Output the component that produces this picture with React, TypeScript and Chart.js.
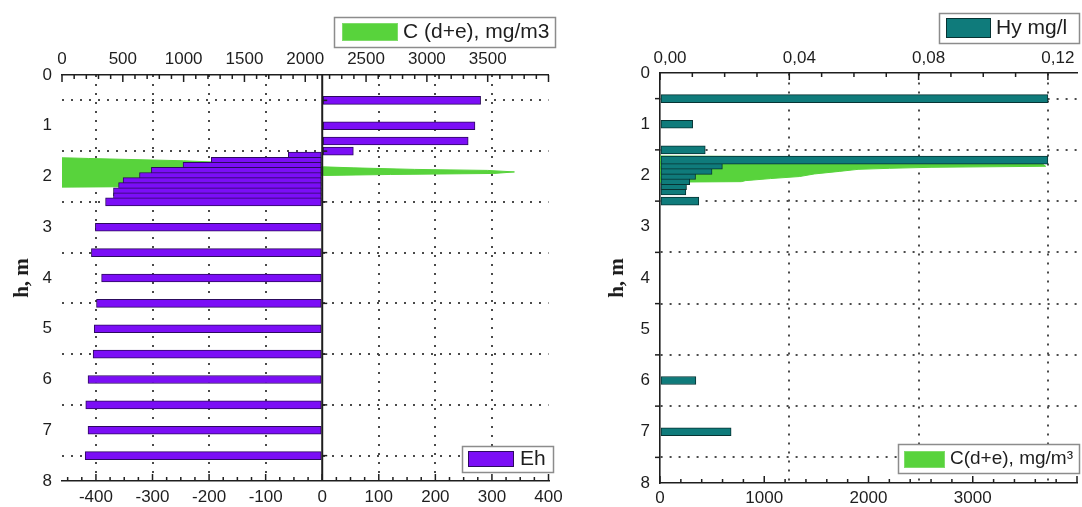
import React, { useEffect, useRef } from 'react';
import { Chart, registerables } from 'chart.js';

Chart.register(...registerables);

const SANS = "'Liberation Sans', Arial, Helvetica, sans-serif";
const SERIF = "'Liberation Serif', 'Times New Roman', serif";
const INK = '#1e1e1e';
const DOT = '#4a4a4a';
const PURPLE = '#7b0ef6';
const PURPLE_EDGE = '#2c0a5e';
const TEAL = '#0f7b7b';
const TEAL_EDGE = '#073333';
const GREEN = '#58d33c';

// ---------- Left panel ----------
// Eh (bottom axis) by depth h, m
const ehDepth = [0.5, 1.0, 1.3, 1.5, 1.6, 1.7, 1.8, 1.9, 2.0, 2.1, 2.2, 2.3, 2.4, 2.5, 3.0, 3.5, 4.0, 4.5, 5.0, 5.5, 6.0, 6.5, 7.0, 7.5];
const ehValues = [280, 270, 258, 55, -60, -196, -246, -302, -323, -352, -360, -369, -369, -383, -401, -408, -390, -399, -403, -405, -414, -418, -414, -419];
// C (d+e), mg/m3 (top axis) profile by depth
const cLeftDepth = [1.63, 1.645, 1.69, 1.76, 1.81, 1.83, 1.86, 1.88, 1.91, 1.94, 1.96, 1.98, 2.05, 2.14, 2.2, 2.21];
const cLeftValues = [0, 220, 1000, 1700, 2150, 2400, 2900, 3500, 3720, 3550, 2700, 2150, 1500, 800, 600, 0];

// ---------- Right panel ----------
// Hy mg/l (top axis), listed from the deepest sample upward
const hyDepth = [7.0, 6.0, 2.5, 2.3, 2.2, 2.1, 2.0, 1.9, 1.8, 1.7, 1.5, 1.0, 0.5];
const hyValues = [0.022, 0.0111, 0.012, 0.008, 0.0082, 0.0092, 0.011, 0.0161, 0.0193, 0.12, 0.014, 0.0101, 0.12];
// C(d+e), mg/m3 (bottom axis) profile by depth
const cRightDepth = [1.62, 1.65, 1.75, 1.82, 1.84, 1.86, 1.88, 1.92, 1.97, 2.02, 2.06, 2.1, 2.12, 2.13];
const cRightValues = [0, 3000, 3650, 3700, 2600, 2200, 1900, 1720, 1480, 1340, 1060, 820, 780, 0];

// axis tick labels
const depthLabels = [0, 1, 2, 3, 4, 5, 6, 7, 8];

const W = 1082;
const H = 507;
const LEFT_X = 0;
const LEFT_W = 570;
const RIGHT_X = 575;
const RIGHT_W = 507;

const isHalf = (v: number) => Math.abs((v % 1) - 0.5) < 1e-6;

const decorPlugin = {
  id: 'decor',
  afterDatasetsDraw(chart: any, _a: any, opts: any) {
    const { ctx, chartArea: a } = chart;
    ctx.save();
    ctx.strokeStyle = INK;
    let x0 = 0;
    if (opts.zeroScale) {
      x0 = chart.scales[opts.zeroScale].getPixelForValue(0);
      ctx.lineWidth = 2;
      ctx.beginPath();
      ctx.moveTo(x0, a.top);
      ctx.lineTo(x0, a.bottom);
      ctx.stroke();
    }
    ctx.lineWidth = 1.5;
    for (const t of opts.ticks || []) {
      const sc = chart.scales[t.scale];
      const n = Math.round((t.to - t.from) / t.step);
      for (let i = 0; i <= n; i++) {
        const v = t.from + i * t.step;
        const p = sc.getPixelForValue(v);
        const r = v / t.major;
        const len = Math.abs(r - Math.round(r)) < 1e-6 ? t.majorLen : t.minorLen;
        ctx.beginPath();
        if (t.edge === 'top') { ctx.moveTo(p, a.top); ctx.lineTo(p, a.top + len); }
        else if (t.edge === 'bottom') { ctx.moveTo(p, a.bottom); ctx.lineTo(p, a.bottom - len); }
        else if (t.edge === 'left') { ctx.moveTo(a.left, p); ctx.lineTo(a.left - len, p); }
        else if (t.edge === 'zero') { ctx.moveTo(x0, p); ctx.lineTo(x0 + len, p); }
        ctx.stroke();
      }
    }
    ctx.restore();
  },
  afterDraw(chart: any, _a: any, opts: any) {
    const { ctx } = chart;
    for (const L of opts.legends || []) {
      ctx.save();
      ctx.fillStyle = '#ffffff';
      ctx.fillRect(L.x, L.y, L.w, L.h);
      ctx.strokeStyle = '#8c8c8c';
      ctx.lineWidth = 1.5;
      ctx.strokeRect(L.x + 0.5, L.y + 0.5, L.w, L.h);
      ctx.fillStyle = L.color;
      ctx.fillRect(L.sx, L.sy, L.sw, L.sh);
      ctx.strokeStyle = L.edge;
      ctx.lineWidth = 1;
      ctx.strokeRect(L.sx + 0.5, L.sy + 0.5, L.sw - 1, L.sh - 1);
      ctx.fillStyle = INK;
      ctx.font = `${L.size}px ${SANS}`;
      ctx.textBaseline = 'middle';
      ctx.textAlign = 'left';
      ctx.fillText(L.text, L.tx, L.ty);
      ctx.restore();
    }
  },
};

const tickFont = { family: SANS, size: 17 };

function depthAxis(width: number, titlePad: number, showBorder: boolean) {
  return {
    type: 'linear',
    position: 'left',
    reverse: true,
    offset: false,
    min: depthLabels[0],
    max: depthLabels[depthLabels.length - 1],
    afterFit: (s: any) => { s.width = width; },
    ticks: {
      stepSize: 0.5,
      autoSkip: false,
      padding: 10,
      color: INK,
      font: tickFont,
      callback: (v: number) => (depthLabels.includes(v) ? String(v) : ''),
    },
    grid: {
      drawTicks: false,
      offset: false,
      lineWidth: 2,
      color: (c: any) => (c.tick && isHalf(c.tick.value) ? DOT : 'transparent'),
    },
    border: { display: showBorder, color: INK, width: 1.6, dash: [2, 7] },
    title: {
      display: true,
      text: 'h, m',
      color: INK,
      font: { family: SERIF, size: 21, weight: 'bold' },
      padding: { top: titlePad, bottom: 0 },
    },
  };
}

function leftConfig(): any {
  const off = LEFT_X;
  return {
    type: 'bar',
    data: {
      datasets: [
        {
          type: 'bar',
          label: 'Eh',
          indexAxis: 'y',
          data: ehDepth.map((h, i) => ({ x: ehValues[i], y: h })),
          xAxisID: 'xEh',
          yAxisID: 'y',
          backgroundColor: PURPLE,
          borderColor: PURPLE_EDGE,
          borderWidth: 1,
          borderSkipped: false,
          barThickness: 8,
          grouped: false,
        },
        {
          type: 'line',
          label: 'C (d+e), mg/m3',
          indexAxis: 'y',
          data: cLeftDepth.map((h, i) => ({ x: cLeftValues[i], y: h })),
          xAxisID: 'xC',
          yAxisID: 'y',
          borderColor: GREEN,
          backgroundColor: GREEN,
          borderWidth: 1,
          pointRadius: 0,
          fill: 'origin',
          tension: 0,
        },
      ],
    },
    options: {
      responsive: false,
      animation: false,
      devicePixelRatio: 1,
      indexAxis: 'y',
      events: [],
      layout: { padding: { left: 0, right: LEFT_W - 548.5, top: 0, bottom: 0 } },
      scales: {
        y: depthAxis(62, 10, false),
        xEh: {
          type: 'linear',
          position: 'bottom',
          min: -460,
          max: 400,
          afterFit: (s: any) => { s.height = H - 481; },
          ticks: { stepSize: 100, includeBounds: false, autoSkip: false, maxRotation: 0, padding: 6, color: INK, font: tickFont, callback: (v: number) => String(v) },
          grid: {
            drawTicks: false,
            lineWidth: 2,
            color: (c: any) => (c.tick && c.tick.value !== 0 && c.tick.value !== 400 ? DOT : 'transparent'),
          },
          border: { display: true, color: INK, width: 1.6, dash: [2, 7] },
        },
        xC: {
          type: 'linear',
          position: 'top',
          min: 0,
          max: 4000,
          afterFit: (s: any) => { s.height = 75; },
          ticks: { stepSize: 500, autoSkip: false, maxRotation: 0, padding: 5, color: INK, font: tickFont, callback: (v: number) => (v >= 4000 ? '' : String(v)) },
          grid: { display: false, drawTicks: false },
          border: { display: true, color: INK, width: 1.6 },
        },
      },
      plugins: {
        legend: { display: false },
        tooltip: { enabled: false },
        decor: {
          zeroScale: 'xEh',
          ticks: [
            { scale: 'xC', edge: 'top', from: 0, to: 4000, step: 100, major: 500, majorLen: 7, minorLen: 4 },
            { scale: 'xEh', edge: 'bottom', from: -450, to: 400, step: 25, major: 100, majorLen: 7, minorLen: 4 },
            { scale: 'y', edge: 'zero', from: 0.5, to: 7.5, step: 1, major: 0.5, majorLen: 5, minorLen: 5 },
          ],
          legends: [
            { x: 334 - off, y: 17, w: 221, h: 30, sx: 342 - off, sy: 23, sw: 56, sh: 18, color: GREEN, edge: '#7fdc6a', text: 'C (d+e), mg/m3', tx: 403 - off, ty: 32.5, size: 21 },
            { x: 462 - off, y: 446, w: 91, h: 26, sx: 468 - off, sy: 451, sw: 46, sh: 16, color: PURPLE, edge: PURPLE_EDGE, text: 'Eh', tx: 520 - off, ty: 459.5, size: 21 },
          ],
        },
      },
    },
    plugins: [decorPlugin],
  };
}

function rightConfig(): any {
  const off = RIGHT_X;
  return {
    type: 'bar',
    data: {
      datasets: [
        {
          type: 'bar',
          label: 'Hy mg/l',
          indexAxis: 'y',
          data: hyDepth.map((h, i) => ({ x: hyValues[i], y: h })),
          xAxisID: 'xHy',
          yAxisID: 'y',
          backgroundColor: TEAL,
          borderColor: TEAL_EDGE,
          borderWidth: 1,
          borderSkipped: false,
          barThickness: 8,
          grouped: false,
        },
        {
          type: 'line',
          label: 'C(d+e), mg/m³',
          indexAxis: 'y',
          data: cRightDepth.map((h, i) => ({ x: cRightValues[i], y: h })),
          xAxisID: 'xC2',
          yAxisID: 'y',
          borderColor: GREEN,
          backgroundColor: GREEN,
          borderWidth: 1,
          pointRadius: 0,
          fill: 'origin',
          tension: 0,
        },
      ],
    },
    options: {
      responsive: false,
      animation: false,
      devicePixelRatio: 1,
      indexAxis: 'y',
      events: [],
      layout: { padding: { left: 0, right: RIGHT_W - (1080 - RIGHT_X), top: 0, bottom: 0 } },
      scales: {
        y: depthAxis(660 - RIGHT_X, 30, true),
        xHy: {
          type: 'linear',
          position: 'top',
          min: 0,
          max: 0.129,
          afterFit: (s: any) => { s.height = 73; },
          ticks: {
            stepSize: 0.04,
            includeBounds: false,
            autoSkip: false,
            maxRotation: 0,
            padding: 4,
            labelOffset: 10,
            color: INK,
            font: tickFont,
            callback: (v: number) => v.toFixed(2).replace('.', ','),
          },
          grid: {
            drawTicks: false,
            lineWidth: 2,
            color: (c: any) => (c.tick && c.tick.value > 0.001 ? DOT : 'transparent'),
          },
          border: { display: true, color: INK, width: 1.6, dash: [2, 7] },
        },
        xC2: {
          type: 'linear',
          position: 'bottom',
          min: 0,
          max: 4000,
          afterFit: (s: any) => { s.height = H - 483; },
          ticks: { stepSize: 1000, autoSkip: false, maxRotation: 0, padding: 5, color: INK, font: tickFont, callback: (v: number) => (v >= 4000 ? '' : String(v)) },
          grid: { display: false, drawTicks: false },
          border: { display: true, color: INK, width: 1.6 },
        },
      },
      plugins: {
        legend: { display: false },
        tooltip: { enabled: false },
        decor: {
          ticks: [
            { scale: 'xHy', edge: 'top', from: 0, to: 0.12, step: 0.01, major: 0.04, majorLen: 7, minorLen: 4 },
            { scale: 'xC2', edge: 'bottom', from: 0, to: 4000, step: 200, major: 1000, majorLen: 7, minorLen: 4 },
            { scale: 'y', edge: 'left', from: 0.5, to: 7.5, step: 1, major: 0.5, majorLen: 5, minorLen: 5 },
          ],
          legends: [
            { x: 939 - off, y: 13, w: 140, h: 30, sx: 946 - off, sy: 18, sw: 45, sh: 20, color: TEAL, edge: TEAL_EDGE, text: 'Hy mg/l', tx: 996 - off, ty: 28.5, size: 21 },
            { x: 898 - off, y: 444, w: 181, h: 29, sx: 904 - off, sy: 451, sw: 41, sh: 17, color: GREEN, edge: '#7fdc6a', text: 'C(d+e), mg/m³', tx: 950 - off, ty: 459, size: 19 },
          ],
        },
      },
    },
    plugins: [decorPlugin],
  };
}

function Panel({ x, width, make }: { x: number; width: number; make: () => any }) {
  const ref = useRef<HTMLCanvasElement | null>(null);
  useEffect(() => {
    if (!ref.current) return;
    const chart = new Chart(ref.current, make());
    return () => chart.destroy();
  }, [make]);
  return (
    <canvas
      ref={ref}
      width={width}
      height={H}
      style={{ position: 'absolute', left: x, top: 0, width, height: H }}
    />
  );
}

export default function App() {
  return (
    <div style={{ position: 'absolute', left: 0, top: 0, width: W, height: H, background: '#ffffff', overflow: 'hidden' }}>
      <Panel x={LEFT_X} width={LEFT_W} make={leftConfig} />
      <Panel x={RIGHT_X} width={RIGHT_W} make={rightConfig} />
    </div>
  );
}
